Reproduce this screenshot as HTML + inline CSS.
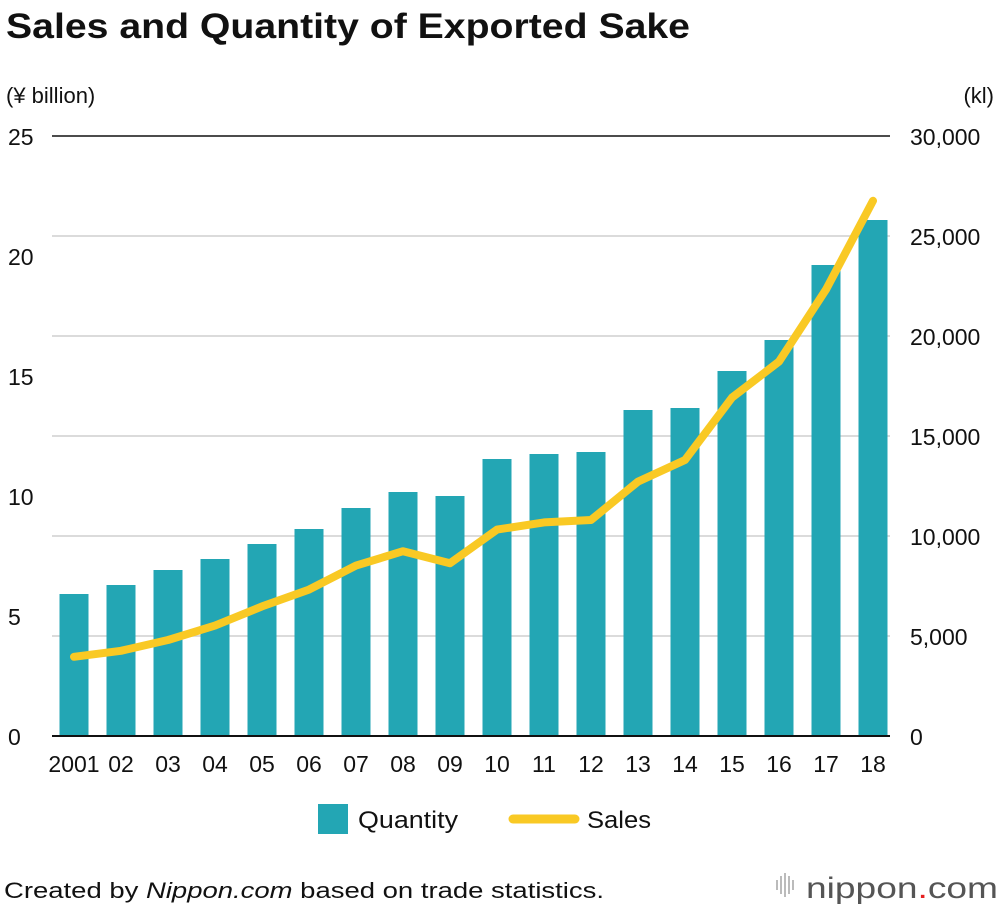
<!DOCTYPE html>
<html><head><meta charset="utf-8">
<style>
body{margin:0;background:#fff;font-family:"Liberation Sans",sans-serif;}
svg text{font-family:"Liberation Sans",sans-serif;}
</style></head>
<body>
<svg width="1000" height="910" viewBox="0 0 1000 910">
<text x="6" y="38" font-size="35" font-weight="bold" fill="#111" textLength="684" lengthAdjust="spacingAndGlyphs">Sales and Quantity of Exported Sake</text>
<text x="6" y="103" font-size="22" fill="#111">(¥ billion)</text>
<text x="994" y="103" font-size="22" fill="#111" text-anchor="end">(kl)</text>
<g id="grid"></g>
<g id="bars"></g>
<g id="line"></g>
<g id="axes"></g>
<g>
<rect x="318" y="804" width="30" height="30" fill="#23a6b4"/>
<text x="358" y="828" font-size="24" fill="#111" textLength="100" lengthAdjust="spacingAndGlyphs">Quantity</text>
<line x1="513" y1="819" x2="575" y2="819" stroke="#f9c924" stroke-width="9" stroke-linecap="round"/>
<text x="587" y="828" font-size="24" fill="#111" textLength="64" lengthAdjust="spacingAndGlyphs">Sales</text>
</g>
<text x="4" y="898" font-size="22" fill="#111" textLength="600" lengthAdjust="spacingAndGlyphs">Created by <tspan font-style="italic">Nippon.com</tspan> based on trade statistics.</text>
<g>
<g fill="#bbb"><rect x="776" y="880" width="2" height="10"/><rect x="780" y="876" width="2" height="18"/><rect x="784" y="873" width="2" height="24"/><rect x="788" y="876" width="2" height="18"/><rect x="792" y="880" width="2" height="10"/></g>
<text x="806" y="898" font-size="30" fill="#555" textLength="192" lengthAdjust="spacingAndGlyphs">nippon<tspan fill="#e62020">.</tspan>com</text>
</g>
</svg>
<script>
const years=["2001","02","03","04","05","06","07","08","09","10","11","12","13","14","15","16","17","18"];
const quantity=[7100,7550,8300,8850,9600,10350,11400,12200,12000,13850,14100,14200,16300,16400,18250,19800,23550,25800];
const sales=[3.3,3.55,4.0,4.6,5.4,6.1,7.1,7.7,7.2,8.6,8.9,9.0,10.6,11.5,14.1,15.6,18.6,22.3];
const leftTicks=[0,5,10,15,20,25];
const rightTicks=[0,5000,10000,15000,20000,25000,30000];
const rightLabels=["0","5,000","10,000","15,000","20,000","25,000","30,000"];
const NS="http://www.w3.org/2000/svg";
const X0=52,X1=890,Y0=736,Y1=136;
const yL=v=>Y0-(v/25)*(Y0-Y1);
const yR=v=>Y0-(v/30000)*(Y0-Y1);
const step=(873-74)/(years.length-1);
const xc=i=>74+i*step;
function mk(t,a,p){const e=document.createElementNS(NS,t);for(const k in a)e.setAttribute(k,a[k]);p.appendChild(e);return e;}
const grid=document.getElementById('grid'),bars=document.getElementById('bars'),line=document.getElementById('line'),axes=document.getElementById('axes');
rightTicks.forEach((v,i)=>{
 const y=yR(v);
 if(v>0&&v<30000){const g=mk('line',{x1:X0,x2:X1,y1:y,y2:y,stroke:'#cfcfcf','stroke-width':1.5},grid);
 
 }
 const t=mk('text',{x:910,y:y+9,'font-size':23,fill:'#111'},axes);t.textContent=rightLabels[i];
 
 
});
leftTicks.forEach(v=>{
 const t=mk('text',{x:8,y:yL(v)+9,'font-size':23,fill:'#111'},axes);t.textContent=v;
 
 
});
const topLine=mk('line',{x1:X0,x2:X1,y1:Y1,y2:Y1,stroke:'#111','stroke-width':1.5},axes);


quantity.forEach((v,i)=>{
 const y=yR(v);
 const r=mk('rect',{x:xc(i)-14.5,y:y,width:29,height:Y0-y,fill:'#23a6b4'},bars);
 
 
 const t=mk('text',{x:xc(i),y:772,'font-size':23,fill:'#111','text-anchor':'middle'},axes);t.textContent=years[i];
 
 
});
const base=mk('line',{x1:X0,x2:X1,y1:Y0,y2:Y0,stroke:'#111','stroke-width':2},axes);


const pts=sales.map((v,i)=>xc(i)+','+yL(v)).join(' ');
const pl=mk('polyline',{points:pts,fill:'none',stroke:'#f9c924','stroke-width':8,'stroke-linejoin':'round','stroke-linecap':'round'},line);


</script>
</body></html>
